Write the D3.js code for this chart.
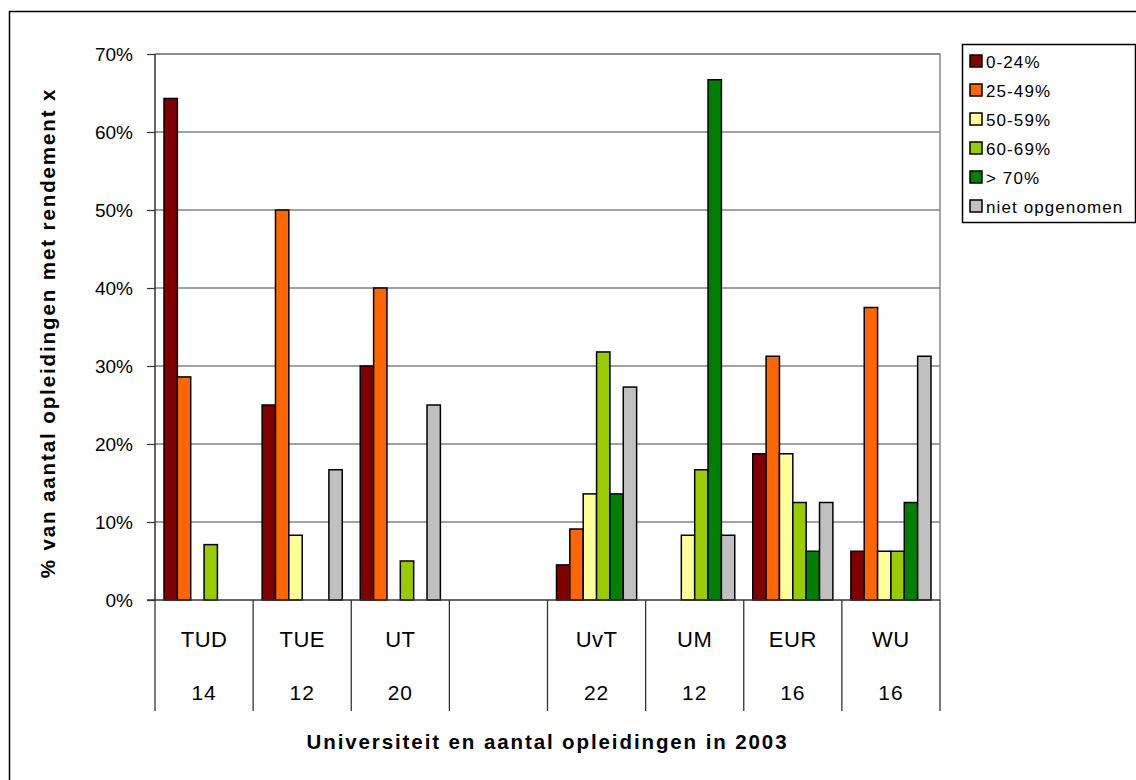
<!DOCTYPE html>
<html>
<head>
<meta charset="utf-8">
<script src="https://cdn.jsdelivr.net/npm/d3@7"></script>
<style>
  body { margin: 0; background: #fff; }
  svg { display: block; font-family: "Liberation Sans", Arial, sans-serif; }
</style>
</head>
<body>
<svg id="chart" width="1136" height="780"></svg>
<script>
const universities = ['TUD', 'TUE', 'UT', '', 'UvT', 'UM', 'EUR', 'WU'];
const programCounts = ['14', '12', '20', '', '22', '12', '16', '16'];
const seriesNames = ['0-24%', '25-49%', '50-59%', '60-69%', '> 70%', 'niet opgenomen'];
const seriesColors = ['#800000', '#ff6600', '#ffff99', '#99cc00', '#008000', '#c0c0c0'];

// percentages per university (same order as universities)
const share0to24 = [64.3, 25, 30, 0, 4.5, 0, 18.75, 6.25];
const share25to49 = [28.6, 50, 40, 0, 9.1, 0, 31.25, 37.5];
const share50to59 = [0, 8.3, 0, 0, 13.6, 8.3, 18.75, 6.25];
const share60to69 = [7.1, 0, 5, 0, 31.8, 16.7, 12.5, 6.25];
const shareAbove70 = [0, 0, 0, 0, 13.6, 66.7, 6.25, 12.5];
const shareNiet = [0, 16.7, 25, 0, 27.3, 8.3, 12.5, 31.25];

const yTicks = [0, 10, 20, 30, 40, 50, 60, 70];

const seriesValues = [share0to24, share25to49, share50to59, share60to69, shareAbove70, shareNiet];

const svg = d3.select('#chart');
const plot = { left: 155, right: 940, top: 54, bottom: 600 };

// outer chart border
svg.append('rect')
  .attr('x', 9.5).attr('y', 11.5)
  .attr('width', 1140).attr('height', 800)
  .attr('fill', 'none').attr('stroke', '#000').attr('stroke-width', 1.5);

const x0 = d3.scaleBand()
  .domain(d3.range(universities.length))
  .range([plot.left, plot.right]);

const x1 = d3.scaleBand()
  .domain(d3.range(seriesNames.length))
  .range([9, x0.bandwidth() - 9]);

const y = d3.scaleLinear()
  .domain([0, 70])
  .range([plot.bottom, plot.top]);

// gridlines
svg.append('g')
  .selectAll('line')
  .data(yTicks.filter(t => t > 0))
  .enter().append('line')
  .attr('x1', plot.left).attr('x2', plot.right)
  .attr('y1', d => y(d)).attr('y2', d => y(d))
  .attr('stroke', '#444').attr('stroke-width', 1.2);

// plot area border top/right
svg.append('path')
  .attr('d', `M${plot.left},${plot.top}H${plot.right}V${plot.bottom}`)
  .attr('fill', 'none').attr('stroke', '#888').attr('stroke-width', 1.5);

// bars
const groups = svg.append('g')
  .selectAll('g')
  .data(universities.map((u, i) => i))
  .enter().append('g')
  .attr('transform', i => `translate(${x0(i)},0)`);

groups.selectAll('rect')
  .data(i => seriesValues.map((vals, s) => ({ s, v: vals[i] })).filter(d => d.v > 0))
  .enter().append('rect')
  .attr('x', d => x1(d.s))
  .attr('y', d => y(d.v))
  .attr('width', x1.bandwidth())
  .attr('height', d => y(0) - y(d.v))
  .attr('fill', d => seriesColors[d.s])
  .attr('stroke', '#000')
  .attr('stroke-width', 1.5);

// y axis
const yAxis = svg.append('g')
  .attr('transform', `translate(${plot.left},0)`)
  .call(d3.axisLeft(y).tickValues(yTicks).tickSize(8).tickPadding(14).tickFormat(d => d + '%'));
yAxis.select('.domain').attr('stroke', '#333').attr('stroke-width', 1.5).attr('d', `M0,${plot.bottom}V${plot.top}`);
yAxis.selectAll('.tick line').attr('stroke', '#333').attr('stroke-width', 1.2);
yAxis.selectAll('.tick text')
  .attr('font-size', 19).attr('fill', '#000')
  .attr('font-family', '"Liberation Sans", Arial, sans-serif');

// x axis line
svg.append('line')
  .attr('x1', plot.left - 8).attr('x2', plot.right)
  .attr('y1', plot.bottom).attr('y2', plot.bottom)
  .attr('stroke', '#333').attr('stroke-width', 1.5);

// category table dividers
const bounds = universities.map((u, i) => x0(i)).concat([plot.right]);
svg.append('g')
  .selectAll('line')
  .data(bounds)
  .enter().append('line')
  .attr('x1', d => d).attr('x2', d => d)
  .attr('y1', plot.bottom).attr('y2', 711)
  .attr('stroke', '#333').attr('stroke-width', 1.3);

svg.append('g')
  .selectAll('text')
  .data(universities)
  .enter().append('text')
  .attr('x', (d, i) => x0(i) + x0.bandwidth() / 2)
  .attr('y', 647)
  .attr('text-anchor', 'middle')
  .attr('font-size', 22)
  .attr('letter-spacing', 0.5)
  .text(d => d);

svg.append('g')
  .selectAll('text')
  .data(programCounts)
  .enter().append('text')
  .attr('x', (d, i) => x0(i) + x0.bandwidth() / 2)
  .attr('y', 700)
  .attr('text-anchor', 'middle')
  .attr('font-size', 21)
  .attr('letter-spacing', 1)
  .text(d => d);

// axis titles
svg.append('text')
  .attr('x', (plot.left + plot.right) / 2)
  .attr('y', 749)
  .attr('text-anchor', 'middle')
  .attr('font-size', 20.5)
  .attr('font-weight', 'bold')
  .attr('letter-spacing', 1.9)
  .text('Universiteit en aantal opleidingen in 2003');

svg.append('text')
  .attr('transform', `translate(55,${(plot.top + plot.bottom) / 2 + 6}) rotate(-90)`)
  .attr('text-anchor', 'middle')
  .attr('font-size', 20.5)
  .attr('font-weight', 'bold')
  .attr('letter-spacing', 1.9)
  .text('% van aantal opleidingen met rendement x');

// legend
const legend = svg.append('g').attr('transform', 'translate(962,44)');
legend.append('rect')
  .attr('x', 0.5).attr('y', 0.5)
  .attr('width', 173).attr('height', 178)
  .attr('fill', '#fff').attr('stroke', '#000').attr('stroke-width', 1.5);

const items = legend.selectAll('g.item')
  .data(seriesNames)
  .enter().append('g')
  .attr('class', 'item')
  .attr('transform', (d, i) => `translate(8,${17 + i * 29})`);

items.append('rect')
  .attr('x', 0).attr('y', -6)
  .attr('width', 12).attr('height', 12)
  .attr('fill', (d, i) => seriesColors[i])
  .attr('stroke', '#000').attr('stroke-width', 1.5);

items.append('text')
  .attr('x', 16).attr('y', 6.5)
  .attr('font-size', 17)
  .attr('letter-spacing', 1.1)
  .text(d => d);
</script>
</body>
</html>
